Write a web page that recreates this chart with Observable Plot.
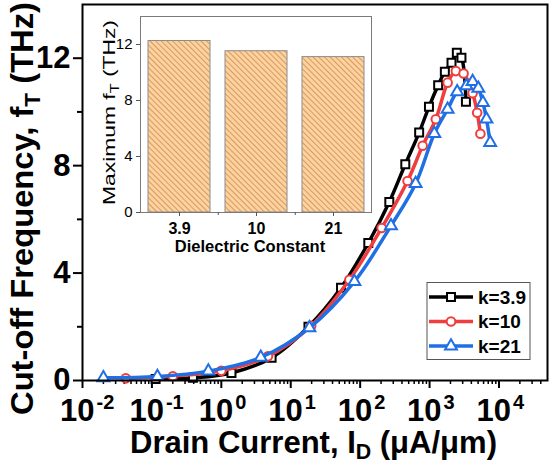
<!DOCTYPE html>
<html>
<head>
<meta charset="utf-8">
<script src="https://cdn.jsdelivr.net/npm/d3@7"></script>
<script src="https://cdn.jsdelivr.net/npm/@observablehq/plot@0.6"></script>
<style>
  body { margin: 0; background: #fff; }
  #chart { position: relative; width: 550px; height: 463px; font-family: "Liberation Sans", Arial, sans-serif; }
  #chart svg { position: absolute; top: 0; }
</style>
</head>
<body>
<div id="chart"></div>
<script>
// Series: cut-off frequency vs drain current for three gate dielectrics
const seriesNames = ["k=3.9", "k=10", "k=21"];
const seriesColors = ["#000000", "#f03e3e", "#1f6fe5"];
const seriesSymbols = ["square", "circle", "triangle"];
const seriesRadius = [4.5, 4.3, 4.4];

// Drain current (µA/µm) and fT (THz)
const idK39 = [0.113, 0.39, 1.4, 5.3, 18, 53, 131, 263, 447, 708, 980, 1330, 1660, 2070, 2470, 2880, 3340];
const ftK39 = [0.06, 0.1, 0.28, 0.85, 2.0, 3.45, 5.12, 6.65, 8.05, 9.23, 10.19, 10.99, 11.5, 11.83, 12.2, 12.02, 10.38];

const idK10 = [0.042, 0.2, 1.0, 4.7, 19.7, 70, 204, 482, 795, 1230, 1820, 2390, 3090, 4170, 4850, 5400];
const ftK10 = [0.08, 0.16, 0.36, 0.9, 2.04, 3.75, 5.68, 7.43, 8.74, 9.73, 11.09, 11.52, 11.43, 10.7, 9.97, 9.19];

const idK21 = [0.02, 0.12, 0.65, 3.7, 18.6, 82.6, 278, 630, 1170, 1820, 2500, 3390, 4170, 5040, 5870, 6600, 7470];
const ftK21 = [0.1, 0.15, 0.35, 0.86, 1.96, 3.68, 5.76, 7.33, 9.19, 10.1, 10.75, 10.97, 11.13, 10.88, 10.35, 9.73, 8.86];

// Inset: maximum fT per dielectric constant
const dielectricLabels = ["3.9", "10", "21"];
const maxFt = [12.25, 11.52, 11.1];

// Axis ticks
const xDecades = [-2, -1, 0, 1, 2, 3, 4];
const xMinor = [-2, -1, 0, 1, 2, 3, 4].flatMap(d => [2, 3, 4, 5, 6, 7, 8, 9].map(m => m * 10 ** d)).filter(v => v < 50000);
const yTicksMain = [0, 4, 8, 12];
const yMinorMain = [2, 6, 10];
const yTicksInset = [0, 4, 8, 12];

const idArrays = [idK39, idK10, idK21];
const ftArrays = [ftK39, ftK10, ftK21];
const curveRows = seriesNames.flatMap((name, i) =>
  idArrays[i].map((id, j) => ({series: name, id, ft: ftArrays[i][j]})));
const insetRows = dielectricLabels.map((k, i) => ({k, max: maxFt[i]}));

const FONT = '"Liberation Sans", Arial, sans-serif';

const seriesMarks = seriesNames.flatMap((name, i) => [
  Plot.line(curveRows, {
    filter: d => d.series === name, x: "id", y: "ft",
    stroke: seriesColors[i], strokeWidth: 3.5, curve: "catmull-rom"
  }),
  Plot.dot(curveRows, {
    filter: d => d.series === name, x: "id", y: "ft",
    symbol: seriesSymbols[i], r: seriesRadius[i],
    stroke: seriesColors[i], strokeWidth: 2, fill: "white"
  })
]);

const main = Plot.plot({
  width: 550, height: 463,
  marginLeft: 82, marginRight: 3, marginTop: 4, marginBottom: 83,
  style: {fontFamily: FONT, background: "white", overflow: "visible"},
  x: {type: "log", domain: [0.01, 50000]},
  y: {domain: [0, 14]},
  marks: [
    Plot.axisX({ticks: xMinor, tickSize: 4, tickFormat: () => "", label: null, strokeWidth: 1.5}),
    Plot.axisX({ticks: xDecades.map(d => 10 ** d), tickSize: 8, tickFormat: () => "", label: null, strokeWidth: 2}),
    Plot.axisY({ticks: yMinorMain, tickSize: 5, tickFormat: () => "", label: null, strokeWidth: 2}),
    Plot.axisY({ticks: yTicksMain, tickSize: 9, tickPadding: 3, fontSize: 31, fontWeight: "bold", label: null, strokeWidth: 2}),
    Plot.text(xDecades, {x: d => 10 ** d, y: () => 0, text: () => "10", textAnchor: "end", dx: 12, dy: 31, fontSize: 31, fontWeight: "bold"}),
    Plot.text(xDecades, {x: d => 10 ** d, y: () => 0, text: d => String(d), textAnchor: "start", dx: 14, dy: 22, fontSize: 20, fontWeight: "bold"}),
    ...seriesMarks,
    Plot.frame({strokeWidth: 2})
  ]
});

const mainSvg = d3.select(main.tagName === "svg" ? main : main.querySelector("svg"));

// Axis titles
const yTitle = mainSvg.append("text")
  .attr("transform", "translate(33,208.5) rotate(-90)")
  .attr("text-anchor", "middle").attr("font-size", 32).attr("font-weight", "bold")
  .attr("font-family", FONT).attr("fill", "black")
  .attr("textLength", 413).attr("lengthAdjust", "spacingAndGlyphs");
yTitle.append("tspan").text("Cut-off Frequency, f");
yTitle.append("tspan").attr("font-size", 22).attr("dy", 7).text("T");
yTitle.append("tspan").attr("dy", -7).text(" (THz)");

const xTitle = mainSvg.append("text")
  .attr("x", 313.5).attr("y", 453)
  .attr("text-anchor", "middle").attr("font-size", 32).attr("font-weight", "bold")
  .attr("font-family", FONT).attr("fill", "black")
  .attr("textLength", 367).attr("lengthAdjust", "spacingAndGlyphs");
xTitle.append("tspan").text("Drain Current, I");
xTitle.append("tspan").attr("font-size", 22).attr("dy", 6).text("D");
xTitle.append("tspan").attr("dy", -6).text(" (\u03BCA/\u03BCm)");

// Legend box
const legend = mainSvg.append("g");
legend.append("rect").attr("x", 427).attr("y", 282.5).attr("width", 103).attr("height", 77)
  .attr("fill", "white").attr("stroke", "#555").attr("stroke-width", 1);
const legendRowsY = [297, 321.5, 346];
const d3Symbols = {square: d3.symbolSquare, circle: d3.symbolCircle, triangle: d3.symbolTriangle};
seriesNames.forEach((name, i) => {
  const y = legendRowsY[i];
  legend.append("line").attr("x1", 429).attr("x2", 473).attr("y1", y).attr("y2", y)
    .attr("stroke", seriesColors[i]).attr("stroke-width", 3.5);
  legend.append("path")
    .attr("d", d3.symbol(d3Symbols[seriesSymbols[i]], seriesRadius[i] ** 2 * Math.PI)())
    .attr("transform", `translate(451,${y})`)
    .attr("fill", "white").attr("stroke", seriesColors[i]).attr("stroke-width", 2);
  legend.append("text").attr("x", 478).attr("y", y).attr("dy", "0.36em")
    .attr("text-anchor", "start")
    .attr("font-size", 19).attr("font-weight", "bold").attr("font-family", FONT)
    .attr("fill", "black").text(name);
});

main.style.left = "0px";
document.getElementById("chart").append(main);

// Inset bar chart
const inset = Plot.plot({
  width: 300, height: 260,
  marginLeft: 60, marginRight: 9, marginTop: 16, marginBottom: 48,
  style: {fontFamily: FONT, background: "transparent", overflow: "visible"},
  x: {domain: dielectricLabels, paddingInner: 0.2, paddingOuter: 0.09},
  y: {domain: [0, 14]},
  marks: [
    Plot.frame({fill: "white", stroke: "none"}),
    Plot.barY(insetRows, {x: "k", y: "max", fill: "#fcd3a0", stroke: "#8c8c8c", strokeWidth: 1}),
    Plot.frame({stroke: "#7a7a7a", strokeWidth: 1}),
    Plot.axisY({ticks: yTicksInset, tickSize: 4, tickPadding: 4, fontSize: 15, label: null, stroke: "#555"}),
    Plot.axisX({ticks: dielectricLabels.slice(0, 2), tickSize: 3, tickFormat: () => "", label: null, dx: 38.75, stroke: "#555"}),
    Plot.axisX({tickSize: 4, tickPadding: 6, fontSize: 16, fontWeight: "bold", label: null, stroke: "#555"})
  ]
});

const insetSvg = d3.select(inset);
const defs = insetSvg.insert("defs", ":first-child");
const pat = defs.append("pattern").attr("id", "hatch")
  .attr("patternUnits", "userSpaceOnUse").attr("width", 4).attr("height", 4)
  .attr("patternTransform", "rotate(-45)");
pat.append("rect").attr("width", 4).attr("height", 4).attr("fill", "#fcd3a0");
pat.append("line").attr("x1", 0.5).attr("x2", 0.5).attr("y1", 0).attr("y2", 4)
  .attr("stroke", "#d99a5e").attr("stroke-width", 1.1);
insetSvg.selectAll('g[aria-label="bar"] rect').attr("fill", "url(#hatch)");

const insetYTitle = insetSvg.append("text")
  .attr("transform", "translate(35,112.5) rotate(-90)")
  .attr("text-anchor", "middle").attr("font-size", 17).attr("font-weight", 500)
  .attr("font-family", FONT).attr("fill", "black")
  .attr("textLength", 185).attr("lengthAdjust", "spacingAndGlyphs");
insetYTitle.append("tspan").text("Maximum f");
insetYTitle.append("tspan").attr("font-size", 12).attr("dy", 4).text("T");
insetYTitle.append("tspan").attr("dy", -4).text(" (THz)");

insetSvg.append("text").attr("x", 170).attr("y", 252)
  .attr("text-anchor", "middle").attr("font-size", 16.5).attr("font-weight", "bold")
  .attr("font-family", FONT).attr("fill", "black").text("Dielectric Constant");

inset.style.left = "80px";
document.getElementById("chart").append(inset);
</script>
</body>
</html>
